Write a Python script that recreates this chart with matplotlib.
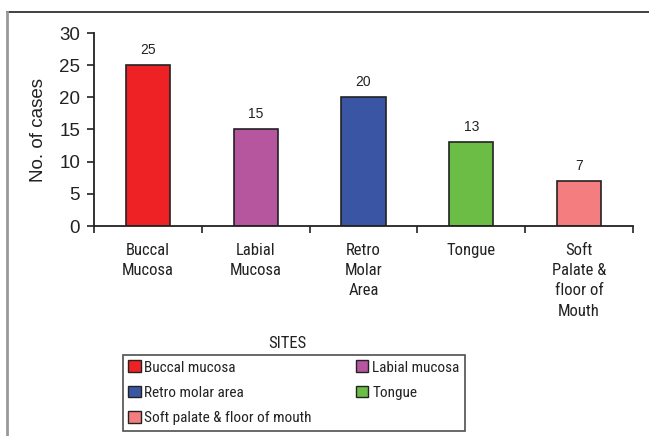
import matplotlib
matplotlib.use("Agg")
import matplotlib.pyplot as plt
from matplotlib.patches import Patch
from matplotlib.lines import Line2D
from matplotlib import font_manager
from matplotlib.font_manager import FontProperties

sites = ["Buccal\nMucosa", "Labial\nMucosa", "Retro\nMolar\nArea", "Tongue",
         "Soft\nPalate &\nfloor of\nMouth"]
cases = [25, 15, 20, 13, 7]
legend_names = ["Buccal mucosa", "Labial mucosa", "Retro molar area", "Tongue",
                "Soft palate & floor of mouth"]
colors = ["#EE2224", "#B5569E", "#3A55A4", "#6CBD45", "#F47E7F"]
yticks = [0, 5, 10, 15, 20, 25, 30]


def condensed_font():
    """Pick a regular-weight condensed sans face if one is installed."""
    wanted = ["Liberation Sans Narrow", "Roboto Condensed", "Open Sans Condensed",
              "DejaVu Sans", "Noto Sans", "Open Sans", "Roboto"]
    for name in wanted:
        for f in font_manager.fontManager.ttflist:
            if f.name != name or f.style != "normal":
                continue
            if f.weight not in ("normal", 400, "regular", "book"):
                continue
            if name in ("Liberation Sans Narrow", "Roboto Condensed", "Open Sans Condensed") \
                    or f.stretch in ("condensed", "semi-condensed") \
                    or "ondensed" in f.fname or "Narrow" in f.fname:
                return f.fname
    return None


plt.rcParams["font.family"] = ["Liberation Sans", "DejaVu Sans"]
cpath = condensed_font()
if cpath:
    def nfont(size):
        return FontProperties(fname=cpath, size=size)
    cat_size, leg_size = 12, 11.0
else:
    def nfont(size):
        return FontProperties(family="Liberation Sans", size=size)
    cat_size, leg_size = 10.5, 10.0

W, H = 649, 436
fig = plt.figure(figsize=(W / 100, H / 100), dpi=100)

# outer frame (top and left edges visible)
fig.add_artist(Line2D([7 / W, 1.0], [1 - 12 / H, 1 - 12 / H], transform=fig.transFigure,
                      color="#333333", lw=1.3))
fig.add_artist(Line2D([7 / W, 7 / W], [0, 1 - 12 / H], transform=fig.transFigure,
                      color="#999999", lw=2.0))

ax = fig.add_axes([94 / W, 210 / H, (633 - 94) / W, 193 / H])
x = list(range(len(cases)))
ax.bar(x, cases, width=0.41, color=colors, edgecolor="#222222", linewidth=1.2)
for xi, v in zip(x, cases):
    ax.annotate(str(v), (xi, v), xytext=(0, 6), textcoords="offset points",
                ha="center", va="bottom", fontsize=10, color="#222222")

ax.set_xlim(-0.5, len(cases) - 0.5)
ax.set_ylim(0, 30)
ax.set_yticks(yticks)
ax.set_yticklabels([str(t) for t in yticks], fontsize=13.5, color="#222222")
ax.set_xticks([i - 0.5 for i in range(len(cases) + 1)])
ax.set_xticklabels([])
ax.set_xticks(x, minor=True)
ax.set_xticklabels(sites, minor=True, fontproperties=nfont(cat_size), color="#222222",
                   linespacing=1.45, va="top")
ax.tick_params(axis="x", which="minor", length=0, pad=12)
ax.tick_params(axis="x", which="major", length=5, direction="out", width=1.2, color="#222222")
ax.tick_params(axis="y", length=5, direction="out", width=1.2, color="#222222", pad=5)
for s in ["top", "right"]:
    ax.spines[s].set_visible(False)
for s in ["left", "bottom"]:
    ax.spines[s].set_linewidth(1.3)
    ax.spines[s].set_color("#222222")
ax.set_ylabel("No. of cases", fontsize=13.5, color="#222222", labelpad=9)

fig.text(287 / W, 1 - 343 / H, "SITES", ha="center", va="center",
         fontproperties=nfont(cat_size), color="#222222")

handles = [Patch(facecolor=c, edgecolor="#222222", linewidth=1.0) for c in colors]
order = [0, 2, 4, 1, 3]
leg = fig.legend([handles[i] for i in order], [legend_names[i] for i in order],
                 ncol=2, loc="upper left", bbox_to_anchor=(123 / W, 1 - 355 / H),
                 frameon=True, fancybox=False, edgecolor="#222222",
                 prop=nfont(leg_size),
                 handlelength=0.8, handleheight=0.8, handletextpad=0.25,
                 columnspacing=2.9, labelspacing=0.74, borderpad=0.35, borderaxespad=0)
leg.get_frame().set_linewidth(1.2)
for t in leg.get_texts():
    t.set_color("#222222")

fig.savefig("out.png", dpi=100, facecolor="white")
